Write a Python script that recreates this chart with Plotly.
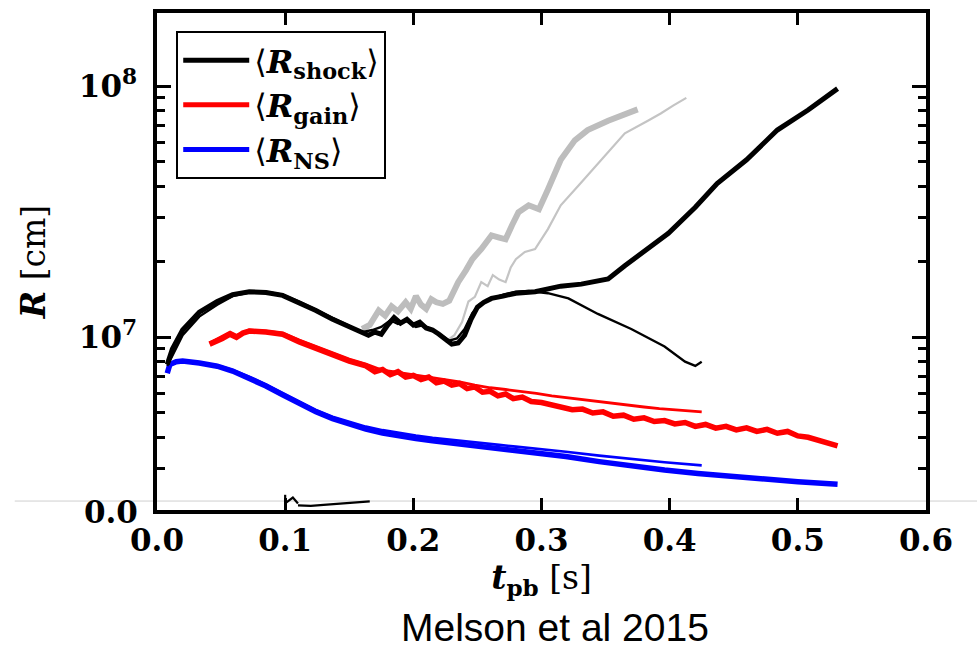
import plotly.graph_objects as go

# ---- shock radius, model A (runs to ~0.53 s)
t_shock_a = [0.008, 0.012, 0.020, 0.033, 0.047, 0.059, 0.072, 0.085, 0.098, 0.111,
             0.124, 0.137, 0.150, 0.160, 0.165, 0.170, 0.175, 0.180, 0.185, 0.190,
             0.195, 0.200, 0.205, 0.210, 0.215, 0.220, 0.225, 0.230, 0.235, 0.240,
             0.245, 0.250, 0.255, 0.261, 0.270, 0.280, 0.295, 0.315, 0.331, 0.352,
             0.365, 0.383, 0.399, 0.420, 0.437, 0.460, 0.484, 0.508, 0.531]
r_shock_a = [0.78, 0.90, 1.07, 1.26, 1.39, 1.48, 1.52, 1.51, 1.47, 1.38,
             1.28, 1.18, 1.10, 1.04, 1.02, 1.05, 1.03, 1.12, 1.20, 1.14,
             1.18, 1.12, 1.15, 1.09, 1.07, 1.03, 0.98, 0.94, 0.95, 1.02,
             1.18, 1.32, 1.38, 1.43, 1.46, 1.50, 1.52, 1.60, 1.63, 1.71,
             1.93, 2.25, 2.60, 3.30, 4.10, 5.10, 6.70, 8.05, 9.80]  # 1e7 cm

# ---- shock radius, model B (runs to ~0.425 s, shock recedes)
t_shock_b = [0.008, 0.020, 0.033, 0.047, 0.059, 0.072, 0.085, 0.098, 0.111, 0.124,
             0.137, 0.150, 0.160, 0.168, 0.175, 0.182, 0.188, 0.195, 0.202, 0.208,
             0.215, 0.222, 0.228, 0.234, 0.240, 0.246, 0.252, 0.260, 0.270, 0.280,
             0.290, 0.305, 0.321, 0.344, 0.370, 0.396, 0.412, 0.420, 0.425]
r_shock_b = [0.77, 1.02, 1.21, 1.35, 1.46, 1.51, 1.52, 1.48, 1.39, 1.29,
             1.19, 1.11, 1.05, 1.07, 1.10, 1.17, 1.13, 1.16, 1.10, 1.12,
             1.06, 1.02, 0.97, 0.99, 1.08, 1.25, 1.36, 1.42, 1.48, 1.52,
             1.53, 1.50, 1.43, 1.24, 1.08, 0.92, 0.80, 0.77, 0.80]  # 1e7 cm

# ---- shock radius, exploding comparison runs (grey)
t_shock_c = [0.160, 0.166, 0.173, 0.178, 0.183, 0.188, 0.194, 0.198, 0.202, 0.206,
             0.210, 0.214, 0.218, 0.223, 0.228, 0.235, 0.241, 0.246, 0.253, 0.261,
             0.267, 0.272, 0.277, 0.282, 0.290, 0.298, 0.305, 0.315, 0.326, 0.336,
             0.352, 0.365, 0.375]
r_shock_c = [1.08, 1.12, 1.28, 1.22, 1.33, 1.27, 1.38, 1.30, 1.46, 1.35,
             1.30, 1.42, 1.38, 1.36, 1.40, 1.66, 1.85, 2.05, 2.25, 2.55,
             2.50, 2.46, 2.80, 3.15, 3.36, 3.24, 3.88, 5.10, 6.10, 6.70,
             7.30, 7.80, 8.10]  # 1e7 cm

t_shock_d = [0.225, 0.232, 0.238, 0.243, 0.248, 0.253, 0.258, 0.262, 0.267, 0.272,
             0.276, 0.280, 0.287, 0.295, 0.305, 0.315, 0.331, 0.347, 0.365, 0.383,
             0.393, 0.403, 0.413]
r_shock_d = [0.96, 1.02, 1.15, 1.39, 1.45, 1.66, 1.60, 1.77, 1.70, 1.66,
             1.90, 2.05, 2.19, 2.25, 2.70, 3.36, 4.14, 5.10, 6.50, 7.30,
             7.80, 8.40, 9.00]  # 1e7 cm

# ---- gain radius
t_gain_a = [0.041, 0.046, 0.051, 0.057, 0.062, 0.067, 0.072, 0.085, 0.098, 0.111,
            0.124, 0.137, 0.150, 0.163, 0.170, 0.176, 0.182, 0.188, 0.194, 0.200,
            0.206, 0.212, 0.218, 0.224, 0.230, 0.236, 0.242, 0.248, 0.254, 0.260,
            0.266, 0.272, 0.278, 0.285, 0.292, 0.300, 0.308, 0.316, 0.324, 0.332,
            0.340, 0.348, 0.356, 0.364, 0.372, 0.380, 0.388, 0.396, 0.404, 0.412,
            0.420, 0.428, 0.436, 0.444, 0.452, 0.460, 0.468, 0.476, 0.484, 0.492,
            0.500, 0.508, 0.516, 0.524, 0.531]
r_gain_a = [9.4, 9.6, 9.9, 10.3, 10.0, 10.4, 10.6, 10.5, 10.3, 9.6,
            9.05, 8.55, 8.05, 7.70, 7.30, 7.45, 7.10, 7.30, 6.95, 7.05,
            6.80, 6.95, 6.60, 6.70, 6.45, 6.55, 6.25, 6.35, 6.05, 6.10,
            5.85, 5.95, 5.70, 5.78, 5.55, 5.50, 5.38, 5.30, 5.15, 5.18,
            5.00, 5.05, 4.85, 4.90, 4.72, 4.78, 4.62, 4.66, 4.52, 4.58,
            4.42, 4.50, 4.35, 4.42, 4.28, 4.36, 4.22, 4.30, 4.15, 4.22,
            4.05, 4.00, 3.88, 3.80, 3.70]  # 1e6 cm

t_gain_b = [0.041, 0.051, 0.057, 0.062, 0.072, 0.085, 0.098, 0.111, 0.124, 0.137,
            0.150, 0.163, 0.176, 0.188, 0.200, 0.212, 0.224, 0.236, 0.248, 0.260,
            0.272, 0.284, 0.296, 0.308, 0.320, 0.332, 0.344, 0.356, 0.368, 0.380,
            0.392, 0.404, 0.416, 0.425]
r_gain_b = [9.5, 10.1, 10.5, 10.2, 10.7, 10.6, 10.4, 9.75, 9.2, 8.7,
            8.2, 7.82, 7.40, 7.25, 7.10, 6.95, 6.80, 6.65, 6.45, 6.30,
            6.20, 6.10, 5.98, 5.85, 5.75, 5.62, 5.55, 5.45, 5.35, 5.28,
            5.20, 5.14, 5.08, 5.05]  # 1e6 cm

# ---- neutron-star radius
t_ns_a = [0.008, 0.010, 0.015, 0.020, 0.033, 0.047, 0.059, 0.072, 0.085, 0.098,
          0.111, 0.124, 0.137, 0.150, 0.163, 0.176, 0.189, 0.202, 0.215, 0.228,
          0.240, 0.253, 0.267, 0.280, 0.303, 0.319, 0.345, 0.370, 0.396, 0.422,
          0.448, 0.474, 0.500, 0.531]
r_ns_a = [7.2, 7.8, 8.0, 8.05, 7.9, 7.68, 7.34, 6.89, 6.40, 5.90,
          5.45, 5.05, 4.74, 4.50, 4.31, 4.16, 4.04, 3.95, 3.87, 3.80,
          3.73, 3.67, 3.60, 3.54, 3.44, 3.35, 3.20, 3.07, 2.96, 2.87,
          2.79, 2.72, 2.66, 2.60]  # 1e6 cm

t_ns_b = [0.008, 0.012, 0.020, 0.033, 0.047, 0.059, 0.072, 0.085, 0.098, 0.111,
          0.124, 0.137, 0.150, 0.163, 0.176, 0.189, 0.202, 0.215, 0.228, 0.240,
          0.253, 0.267, 0.280, 0.303, 0.319, 0.345, 0.370, 0.396, 0.425]
r_ns_b = [7.3, 7.9, 8.1, 7.95, 7.75, 7.42, 6.98, 6.50, 6.00, 5.55,
          5.14, 4.83, 4.60, 4.41, 4.27, 4.15, 4.06, 3.98, 3.91, 3.85,
          3.79, 3.73, 3.67, 3.58, 3.50, 3.38, 3.27, 3.18, 3.09]  # 1e6 cm

# ---- tail of a curve from the panel underneath, peeking above the frame
t_lower = [0.100, 0.100, None, 0.101, 0.106, 0.110, None, 0.110, 0.120, 0.130, 0.140, 0.150, 0.160, 0.166]
r_lower = [2.10, 2.36, None, 2.20, 2.30, 2.18, None, 2.14, 2.13, 2.15, 2.17, 2.19, 2.21, 2.22]  # 1e6 cm

x_ticks = [0.0, 0.1, 0.2, 0.3, 0.4, 0.5, 0.6]
y_ticks = [1e7, 1e8]
y_ticktext = ["10<sup>7</sup>", "10<sup>8</sup>"]

SERIF = "DejaVu Serif"


def scale(vals, f):
    return [None if v is None else v * f for v in vals]


fig = go.Figure()


def line(t, r, color, width, name=None, legend=False):
    fig.add_trace(go.Scatter(
        x=t, y=r, mode="lines", name=name, showlegend=legend,
        line=dict(color=color, width=width), connectgaps=False,
    ))


# grey comparison runs underneath
line(t_shock_c, scale(r_shock_c, 1e7), "#bdbdbd", 6)
line(t_shock_d, scale(r_shock_d, 1e7), "#c4c4c4", 2.2)

# neutron star
line(t_ns_b, scale(r_ns_b, 1e6), "#0000ff", 2.6)
line(t_ns_a, scale(r_ns_a, 1e6), "#0000ff", 5.5)

# gain radius
line(t_gain_b, scale(r_gain_b, 1e6), "#ff0000", 2.8)
line(t_gain_a, scale(r_gain_a, 1e6), "#ff0000", 5.5)

# shock
line(t_shock_b, scale(r_shock_b, 1e7), "#000000", 2.4)
line(t_shock_a, scale(r_shock_a, 1e7), "#000000", 5)

line(t_lower, scale(r_lower, 1e6), "#000000", 2.2)

# legend entries
leg_names = ["\u27e8<b><i>R</i></b><sub><b>shock</b></sub>\u27e9",
             "\u27e8<b><i>R</i></b><sub><b>gain</b></sub>\u27e9",
             "\u27e8<b><i>R</i></b><sub><b>NS</b></sub>\u27e9"]
for nm, col in zip(leg_names, ["#000000", "#ff0000", "#0000ff"]):
    fig.add_trace(go.Scatter(x=[None], y=[None], mode="lines", name=nm,
                             line=dict(color=col, width=5), showlegend=True))

fig.update_layout(
    width=977, height=652,
    margin=dict(l=157, r=51, t=9, b=142),
    plot_bgcolor="white", paper_bgcolor="white",
    font=dict(family=SERIF, color="black"),
    showlegend=True,
    legend=dict(
        x=0.025, y=0.964, xanchor="left", yanchor="top",
        bgcolor="white", bordercolor="black", borderwidth=2,
        font=dict(family=SERIF, size=32, color="black"),
        tracegroupgap=0, itemwidth=66,
    ),
)

fig.update_xaxes(
    range=[0.0, 0.6], tickvals=x_ticks, tickformat=".1f",
    ticks="inside", ticklen=12, tickwidth=2.5, tickcolor="black",
    showline=True, linewidth=3.5, linecolor="black", mirror="allticks",
    showgrid=False, zeroline=False,
    tickfont=dict(family=SERIF, size=31, color="black", weight="bold"),
    ticklabelstandoff=0,
    title=dict(text="<b><i>t</i><sub>pb</sub></b> [s]", standoff=9,
               font=dict(family=SERIF, size=33, color="black")),
)

minor_vals = [m * 10 ** e for e in (6, 7, 8) for m in range(2, 10)]
fig.update_yaxes(
    type="log", range=[6.3123, 8.2925],
    tickmode="array", tickvals=y_ticks, ticktext=y_ticktext,
    ticks="inside", ticklen=14, tickwidth=2.5, tickcolor="black",
    minor=dict(tickmode="array", tickvals=minor_vals, ticks="inside",
               ticklen=8, tickwidth=2.5, tickcolor="black", showgrid=False),
    showline=True, linewidth=3.5, linecolor="black", mirror="allticks",
    showgrid=False, zeroline=False,
    tickfont=dict(family=SERIF, size=31, color="black", weight="bold"),
    ticklabelstandoff=10,
    title=dict(text="<b><i>R</i></b> [cm]", standoff=24,
               font=dict(family=SERIF, size=33, color="black")),
)

# thin grey rule crossing the page just above the lower frame edge
fig.add_shape(type="line", xref="paper", yref="paper",
              x0=-0.185, x1=1.07, y0=0.018, y1=0.018,
              line=dict(color="#cfcfcf", width=1), layer="below")

# tick label of the panel underneath
fig.add_annotation(text="0.0", xref="paper", yref="paper", x=-0.022, y=-0.004,
                   xanchor="right", yanchor="middle", showarrow=False,
                   font=dict(family=SERIF, size=31, color="black", weight="bold"))

fig.add_annotation(text="Melson et al 2015", xref="paper", yref="paper",
                   x=0.5176, y=-0.2355, xanchor="center", yanchor="middle",
                   showarrow=False,
                   font=dict(family="Liberation Sans", size=39, color="black"))

fig.write_html("out.html")
